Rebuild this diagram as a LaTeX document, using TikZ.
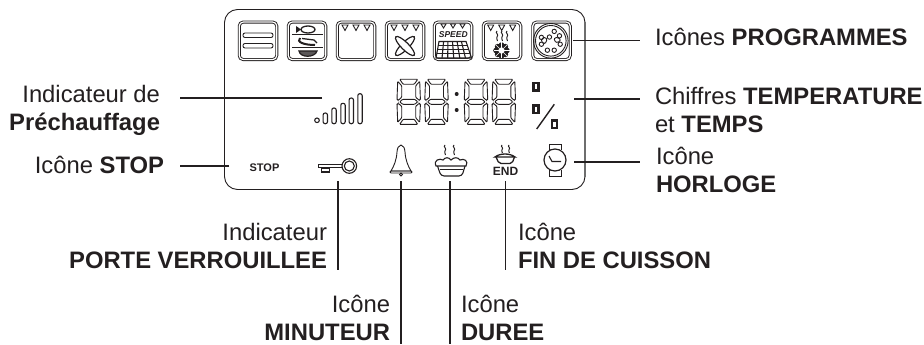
\documentclass[tikz,border=0pt]{standalone}
\usepackage{fontspec}
\setmainfont{Liberation Sans}
\usetikzlibrary{arrows.meta,positioning,calc}
\definecolor{LcdInk}{HTML}{231F20}
\definecolor{LcdGrey}{HTML}{6E6E6E}
\tikzset{
  marks/.pic={\foreach \x in {0,11,22} \draw[lcd] ({\x-3},0) -- ({\x+3},0) -- (\x,5.5) -- cycle;},
  wisp/.pic={\draw[lcd, line width=1pt] (0,0) .. controls (-2.5,2) and (2.5,3) .. (0,6) .. controls (-1.5,7.5) and (1,8) .. (.5,10);},
  digit/.pic={
    \draw[lcdseg] (3,0) -- (21,0) -- (17.5,5) -- (6.5,5) -- cycle;
    \draw[lcdseg] (3,45) -- (21,45) -- (17.5,40) -- (6.5,40) -- cycle;
    \draw[lcdseg] (3,22.5) -- (6,20) -- (18,20) -- (21,22.5) -- (18,25) -- (6,25) -- cycle;
    \draw[lcdseg] (1,2) -- (5,6.5) -- (5,18) -- (1.5,21) -- (.3,20) -- cycle;
    \draw[lcdseg] (23,2) -- (19,6.5) -- (19,18) -- (22.5,21) -- (23.7,20) -- cycle;
    \draw[lcdseg] (1,43) -- (5,38.5) -- (5,27) -- (1.5,24) -- (.3,25) -- cycle;
    \draw[lcdseg] (23,43) -- (19,38.5) -- (19,27) -- (22.5,24) -- (23.7,25) -- cycle;
  }
}
\begin{document}
\begin{tikzpicture}[x=1pt,y=-1pt,line cap=butt]
  \tikzstyle{lcd}=[draw=LcdInk, line width=.9pt]
  \tikzstyle{lcdseg}=[draw=LcdInk, line width=.9pt, rounded corners=.8pt]
  \tikzstyle{iconbox}=[rounded corners=4pt, draw=LcdInk, line width=.9pt, double=white, double distance=1.2pt, minimum size=37.5pt, inner sep=0pt, outer sep=2.5pt]
  \tikzstyle{leader}=[draw=LcdInk, line width=1.2pt]
  \tikzstyle{lblL}=[anchor=base east, align=right, inner sep=0pt, outer ysep=2pt, text=LcdInk, font=\fontsize{23.8}{28}\selectfont]
  \tikzstyle{lblR}=[anchor=base west, align=left, inner sep=0pt, outer ysep=2pt, text=LcdInk, font=\fontsize{23.8}{28}\selectfont]
  \useasboundingbox (0,0) rectangle (924,345);

  % panel
  \draw[draw=LcdInk, line width=.9pt, rounded corners=13pt] (224.5,9.5) rectangle (585,189.5);
  \draw[draw=LcdGrey, line width=1.1pt] (585,22) -- (585,177);

  % programme icons
  \foreach \x/\n in {258/pg1, 307/pg2, 356/pg3, 405/pg4, 453/pg5, 502/pg6, 551.5/pg7}
    \node[iconbox] (\n) at (\x,40.8) {};
  \draw[lcd, rounded corners=2pt] (243,33) rectangle (273,37.5);
  \draw[lcd, rounded corners=2pt] (243,43.5) rectangle (273,48);
  % fish, sausage, dish
  \draw[lcd, line width=1.3pt] (308,29.5) ellipse (7 and 3.5);
  \fill[LcdInk] (301,29.5) -- (296,26) -- (296,33) -- cycle;
  \draw[LcdInk, line width=1.2pt] (292,34.5) -- (323,34.5) (292,47.7) -- (323,47.7);
  \draw[lcd, line width=2pt] (300,38) .. controls (296,42) and (304,45) .. (315,45);
  \draw[lcd, line width=1.3pt] (302,38.5) -- (314,40) -- (317,43);
  \draw[lcd, line width=1.2pt, fill=LcdInk!75] (299,51) .. controls (300,58) and (315,58) .. (317,51) -- cycle;
  \pic at (345,25) {marks};
  \pic at (394,25) {marks};
  \foreach \a in {45,135}
    \draw[lcd, fill=white, line width=1.2pt, rotate around={\a:(405,46)}] (405,46) ellipse (13 and 3.7);
  \foreach \x in {443.5,453,462.5}
    \draw[lcd] (\x-2.5,24) -- (\x+2.5,24) -- (\x,28) -- cycle;
  \node[inner sep=0pt, font=\fontsize{8.5}{8.5}\selectfont\bfseries\itshape, text=LcdInk] (speedtxt) at (453.3,34.6) {SPEED};
  \draw[lcd, line width=1.1pt] (439,41.5) -- (466,41.5) -- (471.5,58) -- (436,58) -- cycle;
  \foreach \t in {.25,.5,.75}
    \draw[lcd, line width=1.1pt] ($(439,41.5)!\t!(436,58)$) -- ($(466,41.5)!\t!(471.5,58)$);
  \foreach \t in {.17,.33,.5,.67,.83}
    \draw[lcd, line width=1.1pt] ($(439,41.5)!\t!(466,41.5)$) -- ($(436,58)!\t!(471.5,58)$);
  \pic at (490.7,25) {marks};
  \foreach \x in {497,502,507}
    \pic at (\x,31) {wisp};
  \foreach \a in {0,45,...,315}
    \fill[LcdInk] (501.5,50.5) ++(\a:5.4) circle (2.9);
  \foreach \a in {0,45,...,135}
    \draw[white, line width=.6pt] (501.5,50.5) ++(\a:8) -- ++(\a+180:16);
  \fill[white] (501.5,50.5) circle (1.4);
  \draw[lcd] (550.8,40.8) circle (17.3) circle (15.3);
  \foreach \a/\r in {20/10, 70/10, 110/10, 160/10, 200/10, 250/4, 290/10, 330/10}
    \draw[lcd] (550.8,40.8) ++(\a:\r) circle (2.2);
  \draw[lcd, rounded corners=1.5pt] (555,37) -- (561,39) -- (558,43) -- (554,41) -- cycle;
  \draw[lcd, rounded corners=1.5pt] (541,39) -- (546,37) -- (547,42) -- (543,44) -- cycle;

  % preheat bars
  \draw[lcd, line width=1.1pt] (317,120.3) circle (2.3);
  \foreach \x/\y in {325.3/113, 334/108, 343/103.3, 351.3/98, 360/93.7}
    \draw[lcd, line width=1.1pt, rounded corners=2pt] (\x-2.2,\y) rectangle (\x+2.2,123.7);

  % time digits
  \foreach \x in {396.7,424.5,464,491.8}
    \pic at (\x,79.3) {digit};
  \foreach \y in {94,110}
    \fill[LcdInk] (456.7,\y) circle (2);
  \draw[LcdInk, line width=2.2pt] (533.5,83) rectangle (538.5,90.5);
  \draw[LcdInk, line width=2.2pt] (533.5,105.5) rectangle (538.5,113);
  \draw[LcdInk, line width=2.2pt] (552,120.5) rectangle (557,128);
  \draw[LcdInk, line width=1.4pt] (536.7,129) -- (554.3,104.3);

  % bottom row
  \node[inner sep=0pt, font=\fontsize{11}{11}\selectfont\bfseries, text=LcdInk] (stopicon) at (264.5,168) {STOP};
  \draw[lcd, line width=1.1pt] (349.3,166) circle (7.3) circle (5);
  \draw[lcd] (342,164.5) -- (318,164.5) -- (318,167.5) -- (342,167.5);
  \fill[LcdInk] (321,167) rectangle (330,172.5);
  \fill[white] (322,169) rectangle (329,170.5);
  \draw[lcd] (401,145) .. controls (398,146) and (397.5,148) .. (397,152) .. controls (396.5,160) and (394,166) .. (391,171) -- (411,171) .. controls (408,166) and (405.5,160) .. (405,152) .. controls (404.5,148) and (404,146) .. (401,145) -- cycle;
  \draw[lcd, rounded corners=1pt] (390,171) rectangle (412,173);
  \draw[lcd] (401,174.5) circle (1.6);
  \foreach \x in {445,454}
    \pic at (\x,145) {wisp};
  \draw[lcd, line width=1.1pt] (436,166) .. controls (433,160) and (440,158) .. (443,160) .. controls (445,157) and (449,157) .. (451,160) .. controls (454,157) and (458,157) .. (460,160) .. controls (464,158) and (469,161) .. (466,166) -- cycle;
  \draw[lcd, line width=1.1pt, rounded corners=3pt] (437.5,166) -- (441,176) -- (462,176) -- (465,166);
  \draw[lcd] (439.5,169) -- (463,169);
  \foreach \x in {502,509}
    \pic[scale=.8] at (\x,145) {wisp};
  \draw[lcd, line width=1.3pt, fill=white] (495,157) .. controls (500,153) and (510,153) .. (515,157) -- cycle;
  \draw[lcd, line width=1.3pt, rounded corners=2pt] (496,157) -- (499,163.5) -- (512,163.5) -- (514.5,157);
  \node[inner sep=0pt, font=\fontsize{12}{12}\selectfont\bfseries, text=LcdInk] (endicon) at (505.5,171) {END};
  \draw[lcd] (549,150) -- (549,144) -- (561,144) -- (561,150);
  \draw[lcd] (549,170) -- (549,176) -- (561,176) -- (561,170);
  \draw[lcd, line width=1.2pt] (555,160) circle (11);
  \draw[lcd, line width=1.1pt] (549,156) -- (552,161.5) -- (561,161.5);

  % labels
  \node[lblL, outer xsep=20pt] (lblprech) at (180,130) {Indicateur de\\\textbf{Préchauffage}};
  \node[lblL, outer xsep=16pt] (lblstop) at (180,173) {Icône \textbf{STOP}};
  \node[lblL, outer xsep=11pt] (lblporte) at (338,268) {Indicateur\\\textbf{PORTE VERROUILLEE}};
  \node[lblL, outer xsep=11pt, outer ysep=4pt] (lblminu) at (401,340) {Icône\\\textbf{MINUTEUR}};
  \node[lblR, outer xsep=11pt, outer ysep=4pt] (lbldur) at (450,340) {Icône\\\textbf{DUREE}};
  \node[lblR, outer xsep=12pt] (lblfin) at (506,268) {Icône\\\textbf{FIN DE CUISSON}};
  \node[lblR, outer xsep=15pt] (lblprog) at (640,45.7) {Icônes \textbf{PROGRAMMES}};
  \node[lblR, outer xsep=15pt] (lbltemp) at (640,132) {Chiffres \textbf{TEMPERATURE}\\et \textbf{TEMPS}};
  \node[lblR, outer xsep=16pt] (lblhor) at (640,192) {Icône\\\textbf{HORLOGE}};

  % connector ends
  \coordinate (tipprech) at (322,97.7);
  \coordinate (tipstop) at (229,166);
  \coordinate (tiptemp) at (574,98.7);
  \coordinate (tiphor) at (574,162);
  \coordinate (tipporte) at (338,181);
  \coordinate (tipminu) at (401,181);
  \coordinate (tipdur) at (450,181);
  \coordinate (tipfin) at (505.7,181);

  \draw[leader, line width=2.4pt] (tipprech) -- (tipprech -| lblprech.east);
  \draw[leader] (tipstop) -- (tipstop -| lblstop.east);
  \draw[leader] (pg7.east) -- (pg7.east -| lblprog.west);
  \draw[leader, line width=1.6pt] (tiptemp) -- (tiptemp -| lbltemp.west);
  \draw[leader] (tiphor) -- (tiphor -| lblhor.west);
  \draw[leader] (tipporte) -- (tipporte |- lblporte.south);
  \draw[leader] (tipminu) -- (tipminu |- lblminu.south);
  \draw[leader] (tipdur) -- (tipdur |- lbldur.south);
  \draw[leader] (tipfin) -- (tipfin |- lblfin.south);
\end{tikzpicture}
\end{document}
